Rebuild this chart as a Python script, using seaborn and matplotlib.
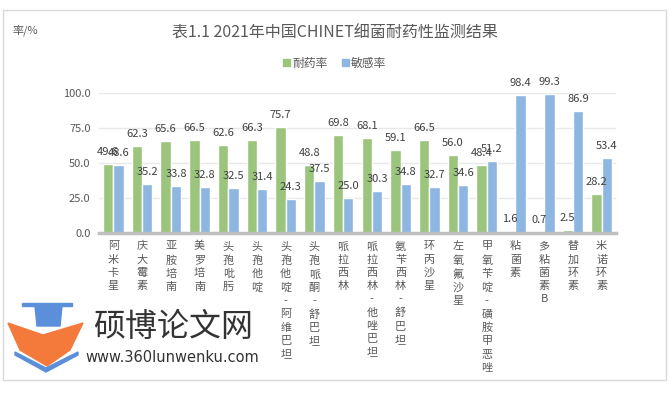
import matplotlib
matplotlib.use('Agg')
import matplotlib.pyplot as plt
import seaborn as sns
import pandas as pd
from matplotlib.patches import Rectangle, Polygon

# 数据
drugs = ['阿米卡星', '庆大霉素', '亚胺培南', '美罗培南', '头孢吡肟', '头孢他啶',
         '头孢他啶-阿维巴坦', '头孢哌酮-舒巴坦', '哌拉西林', '哌拉西林-他唑巴坦',
         '氨苄西林-舒巴坦', '环丙沙星', '左氧氟沙星', '甲氧苄啶-磺胺甲恶唑',
         '粘菌素', '多粘菌素B', '替加环素', '米诺环素']
resist = [49.6, 62.3, 65.6, 66.5, 62.6, 66.3, 75.7, 48.8, 69.8, 68.1,
          59.1, 66.5, 56.0, 48.4, 1.6, 0.7, 2.5, 28.2]
sensitive = [48.6, 35.2, 33.8, 32.8, 32.5, 31.4, 24.3, 37.5, 25.0, 30.3,
             34.8, 32.7, 34.6, 51.2, 98.4, 99.3, 86.9, 53.4]
series = ['耐药率', '敏感率']
colors = {'耐药率': '#9BC47D', '敏感率': '#8DB6E0'}

df = pd.DataFrame({
    '药物': drugs * 2,
    '率': resist + sensitive,
    '类别': [series[0]] * len(drugs) + [series[1]] * len(drugs),
})

sns.set_style('white')
plt.rcParams['font.family'] = ['Noto Sans CJK SC', 'DejaVu Sans']

W, H = 669, 393
fig = plt.figure(figsize=(W / 100, H / 100), dpi=100)
ax = fig.add_axes([99 / W, 1 - 233 / H, 517 / W, 140 / H])

sns.barplot(data=df, x='药物', y='率', hue='类别', palette=colors,
            width=0.72, saturation=1, legend=False, ax=ax)

for cont in ax.containers:
    ax.bar_label(cont, fmt='%.1f', padding=5, fontsize=8, color='#404040',
                 clip_on=False)

# 坐标轴
ax.set_ylim(0, 100)
ax.set_yticks([0, 25, 50, 75, 100])
ax.set_yticklabels([f'{v:.1f}' for v in [0, 25, 50, 75, 100]],
                   fontsize=8, color='#595959')
ax.set_xticks(range(len(drugs)))
ax.set_xticklabels(['\n'.join(d) for d in drugs], fontsize=8,
                   color='#595959', linespacing=1.4, va='top')
ax.tick_params(length=0, pad=6)
ax.set_xlabel('')
ax.set_ylabel('')
ax.yaxis.grid(True, color='#E8E8E8', lw=1)
ax.set_axisbelow(True)
for s in ['left', 'right', 'top']:
    ax.spines[s].set_visible(False)
ax.spines['bottom'].set_color('#BFBFBF')
ax.spines['bottom'].set_linewidth(2.5)

# 标题、图例
fig.text(0.5, 1 - 33 / H, '表1.1 2021年中国CHINET细菌耐药性监测结果',
         ha='center', va='center', fontsize=11.5, color='#595959')
fig.text(12 / W, 1 - 30 / H, '率/%', ha='left', va='center',
         fontsize=8, color='#595959')
handles = [Rectangle((0, 0), 1, 1, color=colors[s]) for s in series]
fig.legend(handles, series, loc='center', bbox_to_anchor=(0.5, 1 - 63 / H),
           ncol=2, frameon=False, handlelength=0.6, handleheight=0.6,
           handletextpad=0.2, columnspacing=1.2, fontsize=8.5,
           labelcolor='#595959')

# 外框
fig.add_artist(Rectangle((3 / W, 1 - 380 / H), 663 / W, 370 / H,
                         transform=fig.transFigure, fill=False,
                         edgecolor='#D9D9D9', lw=1))

# 水印
def px(pts):
    return [(x / W, 1 - y / H) for x, y in pts]

fig.add_artist(Polygon(px([(8, 323), (43, 335), (83, 323), (70, 350),
                           (47, 366), (20, 350)]),
                       transform=fig.transFigure, color='#F47A3C'))
fig.add_artist(Polygon(px([(22, 303), (72, 303), (72, 306), (22, 306)]),
                       transform=fig.transFigure, color='#5B8FD9'))
fig.add_artist(Polygon(px([(35, 306), (62, 306), (60, 326), (37, 326)]),
                       transform=fig.transFigure, color='#5B8FD9'))
fig.add_artist(Polygon(px([(15, 352), (46, 368), (78, 352), (78, 355),
                           (46, 372), (15, 355)]),
                       transform=fig.transFigure, color='#5B8FD9'))
fig.text(93 / W, 1 - 327 / H, '硕博论文网', ha='left', va='center',
         fontsize=23, color='#333333')
fig.text(85 / W, 1 - 357 / H, 'www.360lunwenku.com', ha='left', va='center',
         fontsize=10.5, color='#333333', family='DejaVu Sans')

fig.savefig('out.png', dpi=100)
